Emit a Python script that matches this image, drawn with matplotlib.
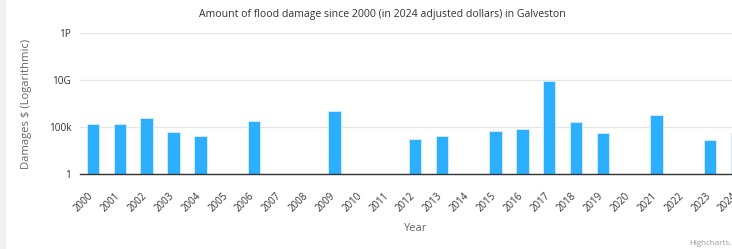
import matplotlib
matplotlib.use("Agg")
import matplotlib.pyplot as plt
from matplotlib.patches import Rectangle
from matplotlib.transforms import ScaledTranslation

plt.rcParams['font.family'] = ['Open Sans', 'DejaVu Sans']

years = [str(y) for y in range(2000, 2025)]
damages = [1.9e5, 1.9e5, 9e5, 2.7e4, 1.0e4, 0, 4.7e5, 0, 0, 5.4e6,
           0, 0, 5.9e3, 1.1e4, 0, 3.5e4, 5.6e4, 8.5e9, 3.3e5, 2.5e4,
           0, 2.0e6, 0, 4.6e3, 2.3e4]
ytick_vals = [1, 1e5, 1e10, 1e15]
ytick_labels = ['1', '100k', '10G', '1P']
title = 'Amount of flood damage since 2000 (in 2024 adjusted dollars) in Galveston'

W, H = 732, 249
fig = plt.figure(figsize=(W / 100, H / 100), dpi=100)
fig.patch.set_facecolor('white')
# light strip at left edge
fig.patches.append(Rectangle((0, 0), 6 / W, 1, transform=fig.transFigure,
                             facecolor='#eef1f3', edgecolor='none', zorder=0))

left, right = 79.6, 750.4
top, bottom = 33, 174
ax = fig.add_axes([left / W, (H - bottom) / H, (right - left) / W, (bottom - top) / H])
ax.set_facecolor('none')
ax.set_yscale('log')
ax.set_ylim(1, 1e15)
ax.set_xlim(-0.5, len(years) - 0.5)

xs = list(range(len(years)))
heights = [max(v, 1) - 1 for v in damages]
ax.bar(xs, heights, bottom=1, width=0.47, color='#2caffe', edgecolor='#d8f0ff',
       linewidth=0.6, zorder=3)

ax.set_yticks(ytick_vals)
ax.set_yticklabels(ytick_labels)
ax.yaxis.set_minor_locator(matplotlib.ticker.NullLocator())
ax.tick_params(axis='y', length=0, pad=6, labelsize=7.2, labelcolor='#333333')
ax.grid(axis='y', color='#e6e6e6', linewidth=1, zorder=0)
ax.set_axisbelow(True)

ax.set_xticks(xs)
ax.set_xticklabels(years, rotation=45, ha='right', va='center', rotation_mode='anchor')
ax.tick_params(axis='x', length=0, pad=14.5, labelsize=7.0, labelcolor='#333333')
shift = ScaledTranslation(-1 / 100, 0, fig.dpi_scale_trans)
for lab in ax.get_xticklabels():
    lab.set_transform(lab.get_transform() + shift)

for s in ['top', 'right', 'left']:
    ax.spines[s].set_visible(False)
ax.spines['bottom'].set_color('#333333')
ax.spines['bottom'].set_linewidth(1)
ax.spines['bottom'].set_zorder(5)

fig.text(382 / W, 1 - 14 / H, title, ha='center', va='center', fontsize=7.6, color='#333333')
fig.text(27 / W, 1 - 103.5 / H, 'Damages $ (Logarithmic)', rotation=90, ha='center', va='center',
         fontsize=8.1, color='#666666')
fig.text(414.5 / W, 1 - 228.5 / H, 'Year', ha='center', va='center', fontsize=8.0, color='#666666')
fig.text(689 / W, 1 - 243 / H, 'Highcharts.com', ha='left', va='center', fontsize=5.8, color='#999999')

fig.savefig('out.png', dpi=100)
